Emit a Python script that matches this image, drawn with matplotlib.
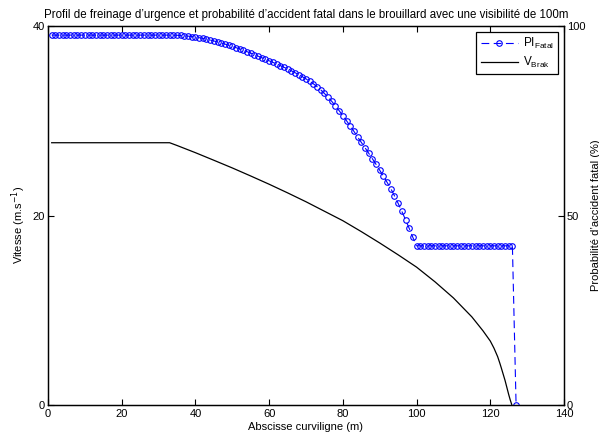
import matplotlib
matplotlib.use("Agg")
import matplotlib.pyplot as plt

plt.rcParams['font.family'] = ['Liberation Sans', 'DejaVu Sans']
plt.rcParams['font.size'] = 8

# probability of fatal accident (%), one marker per metre
pi_x = list(range(1, 128))
pi_fatal = ([97.6] * 33 +
            [97.6, 97.56, 97.5, 97.43, 97.33, 97.21, 97.08, 96.92, 96.73, 96.53,
             96.3, 96.05, 95.79, 95.52, 95.23, 94.93, 94.62, 94.29, 93.95, 93.6,
             93.23, 92.85, 92.46, 92.05, 91.63, 91.23, 90.82, 90.41, 89.99, 89.56,
             89.12, 88.67, 88.2, 87.7, 87.18, 86.63, 86.05, 85.44, 84.75, 84.0,
             83.15, 82.2, 81.2, 80.1, 78.9, 77.65, 76.35, 75.0, 73.6, 72.2,
             70.75, 69.3, 67.9, 66.45, 65.0, 63.5, 61.95, 60.35, 58.75, 57.1,
             55.2, 53.2, 51.1, 48.9, 46.6, 44.2, 42.0] +
            [42.0] * 26 + [0.0])

# braking speed profile (m/s)
v_x = [1, 33, 35, 40, 45, 50, 55, 60, 65, 70, 75, 80, 85, 90, 95, 100,
       105, 110, 115, 118, 120, 121, 122, 122.6, 123, 123.5, 124, 124.5,
       125, 125.4, 125.8]
v_brak = [27.68, 27.68, 27.39, 26.63, 25.83, 25.02, 24.17, 23.3, 22.39, 21.45,
          20.45, 19.45, 18.3, 17.1, 15.85, 14.55, 13.0, 11.3, 9.3, 7.84, 6.75,
          6.0, 5.1, 4.4, 3.9, 3.25, 2.6, 1.85, 1.1, 0.55, 0.07]

fig = plt.figure(figsize=(5.99, 4.36), dpi=100)
ax = fig.add_axes([48 / 599, 1 - 405 / 436, 516 / 599, 379 / 436])
ax2 = ax.twinx()

l1, = ax2.plot(pi_x, pi_fatal, color='blue', lw=0.8, dashes=(7, 4),
               marker='o', markersize=4, markerfacecolor='none',
               markeredgewidth=0.8)
l2, = ax.plot(v_x, v_brak, color='black', lw=0.9)

ax.set_xlim(0, 140)
ax.set_ylim(0, 40)
ax.set_xticks(range(0, 141, 20))
ax.set_yticks([0, 20, 40])
ax2.set_ylim(0, 100)
ax2.set_yticks([0, 50, 100])

ax.tick_params(axis='x', direction='in', length=4, top=True, pad=3)
ax.tick_params(axis='y', direction='in', length=4, pad=2)
ax2.tick_params(axis='y', direction='in', length=4, pad=2)
for a in (ax, ax2):
    for s in a.spines.values():
        s.set_linewidth(0.9)

ax.set_title("Profil de freinage d\u2019urgence et probabilité d\u2019accident fatal "
             "dans le brouillard avec une visibilité de 100m", fontsize=8.3, pad=6)
ax.set_xlabel("Abscisse curviligne (m)", labelpad=2)
ax.set_ylabel("Vitesse (m.s$^{-1}$)")
ax.yaxis.set_label_coords(-0.038, 0.475)
ax2.set_ylabel("Probabilité d\u2019accident fatal (%)")
ax2.yaxis.set_label_coords(1.052, 0.5)

leg = ax2.legend([l1, l2], ["PI$_{\\mathregular{Fatal}}$", "V$_{\\mathregular{Brak}}$"],
                 loc='upper right', handlelength=3.2, fancybox=False,
                 framealpha=1, edgecolor='black', borderaxespad=0.5,
                 borderpad=0.35, labelspacing=0.35, handletextpad=0.4,
                 fontsize=8.5)
leg.get_frame().set_linewidth(0.9)

fig.savefig("out.png", dpi=100)
